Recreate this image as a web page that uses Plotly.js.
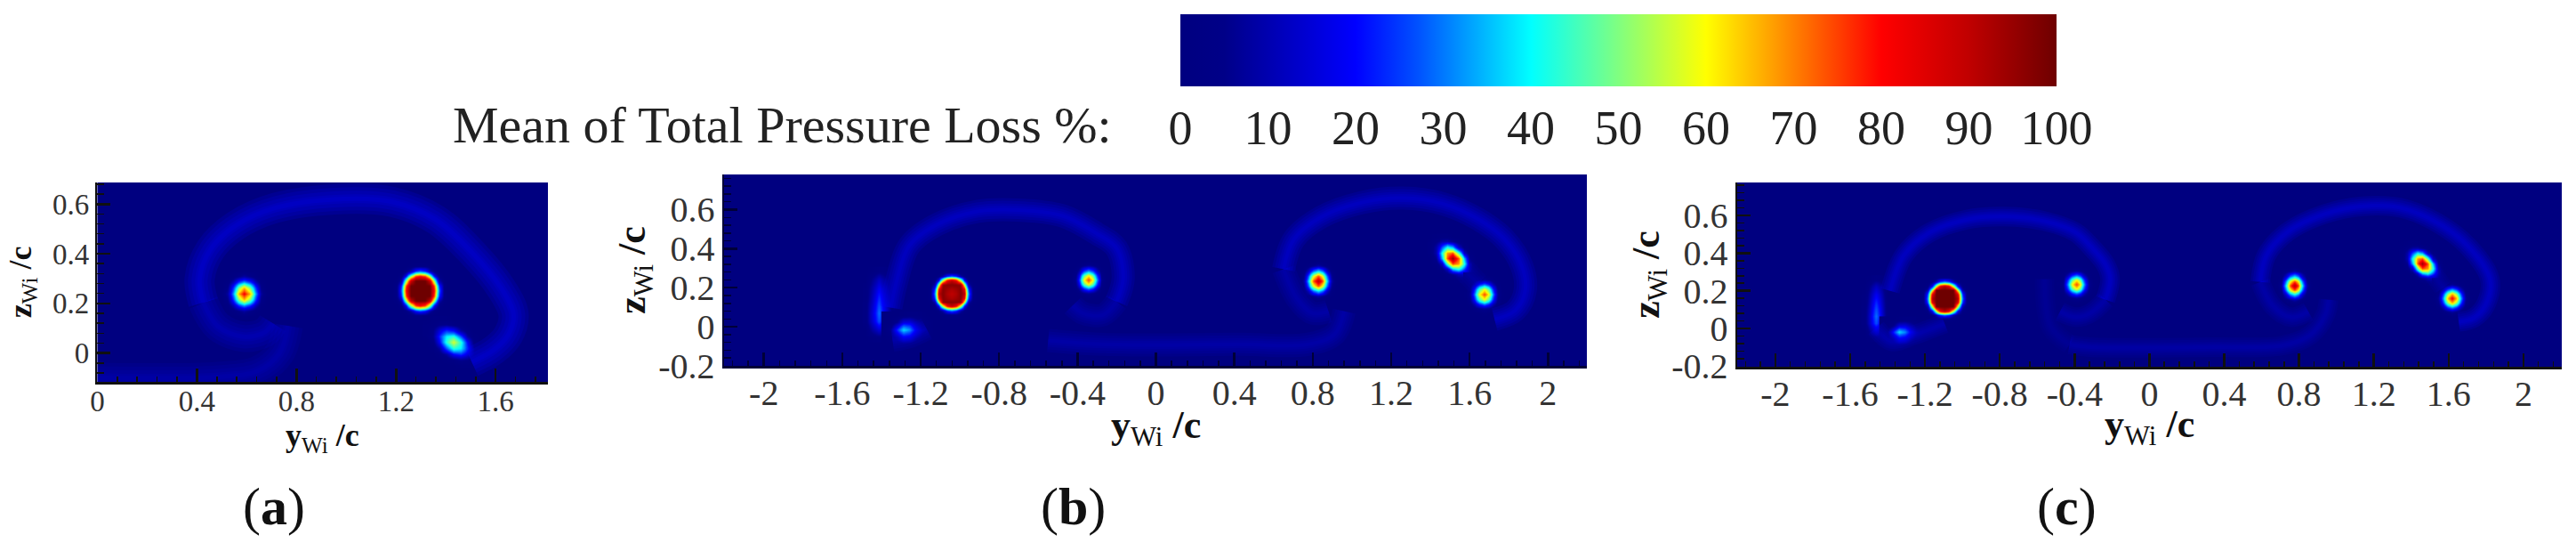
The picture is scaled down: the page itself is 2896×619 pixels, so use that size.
<!DOCTYPE html>
<html><head><meta charset="utf-8">
<script src="https://cdn.plot.ly/plotly-3.0.1.min.js"></script>
<style>html,body{margin:0;padding:0;background:#fff}</style></head>
<body><div id="chart" style="width:2896px;height:619px"></div>
<script>
// ---------- colour scale (Total Pressure Loss %)
const lossScale = [[0,'#000080'],[0.05,'#000088'],[0.2,'#0000ff'],[0.27,'#0050ff'],[0.4,'#00ffff'],[0.5,'#80ff80'],[0.6,'#ffff00'],[0.68,'#ff9a00'],[0.8,'#ff0000'],[0.9,'#c00000'],[1,'#6e0000']];
const colorbarTicks = [0,10,20,30,40,50,60,70,80,90,100];

// ---------- tick labels
const xTicksA = [0,0.4,0.8,1.2,1.6];
const xLabelsA = ['0','0.4','0.8','1.2','1.6'];
const yTicksA = [0,0.2,0.4,0.6];
const yLabelsA = ['0','0.2','0.4','0.6'];
const xTicksWide = [-2,-1.6,-1.2,-0.8,-0.4,0,0.4,0.8,1.2,1.6,2];
const xLabelsWide = ['-2','-1.6','-1.2','-0.8','-0.4','0','0.4','0.8','1.2','1.6','2'];
const yTicksWide = [-0.2,0,0.2,0.4,0.6];
const yLabelsWide = ['-0.2','0','0.2','0.4','0.6'];

// ---------- loss values sampled across the vortex cores (rows bottom to top)
const soft75 = [
[0,0,0,0,1,0,0,0,0],[0,0,2,5,7,5,2,0,0],[0,2,10,23,30,23,10,2,0],[0,5,23,47,60,47,23,5,0],[1,7,30,60,75,60,30,7,1],
[0,5,23,47,60,47,23,5,0],[0,2,10,23,30,23,10,2,0],[0,0,2,5,7,5,2,0,0],[0,0,0,0,1,0,0,0,0]];
const soft82 = [
[0,0,0,0,1,0,0,0,0],[0,0,2,5,8,5,2,0,0],[0,2,11,25,33,25,11,2,0],[0,5,25,51,66,51,25,5,0],[1,8,33,66,82,66,33,8,1],
[0,5,25,51,66,51,25,5,0],[0,2,11,25,33,25,11,2,0],[0,0,2,5,8,5,2,0,0],[0,0,0,0,1,0,0,0,0]];
const soft92 = [
[0,0,0,0,1,0,0,0,0],[0,0,2,6,9,6,2,0,0],[0,2,12,28,37,28,12,2,0],[0,6,28,58,74,58,28,6,0],[1,9,37,74,92,74,37,9,1],
[0,6,28,58,74,58,28,6,0],[0,2,12,28,37,28,12,2,0],[0,0,2,6,9,6,2,0,0],[0,0,0,0,1,0,0,0,0]];
const tilted95 = [
[0,0,0,0,0,1,1,1,0],[0,0,0,2,6,10,9,4,1],[0,0,3,13,35,42,27,9,1],[0,2,13,47,74,68,42,10,1],[0,6,35,74,95,74,35,6,0],
[1,10,42,68,74,47,13,2,0],[1,9,27,42,35,13,3,0,0],[1,4,9,10,6,2,0,0,0],[0,1,1,1,0,0,0,0,0]];
const tilted57 = [
[0,0,0,0,0,1,1,1,0],[0,0,0,1,3,6,5,2,1],[0,0,2,8,20,24,16,5,1],[0,1,8,27,43,39,24,6,1],[0,3,20,43,57,43,20,3,0],
[1,6,24,39,43,27,8,1,0],[1,5,16,24,20,8,2,0,0],[1,2,5,6,3,1,0,0,0],[0,1,1,1,0,0,0,0,0]];
const flat100 = [
[0,0,0,0,0,0,0,0,0,0,0,0,0],[0,0,0,0,1,3,3,3,1,0,0,0,0],[0,0,0,3,10,24,30,24,10,3,0,0,0],[0,0,3,18,55,84,92,84,55,18,3,0,0],
[0,1,10,55,100,100,100,100,100,55,10,1,0],[0,3,24,84,100,100,100,100,100,84,24,3,0],[0,3,30,92,100,100,100,100,100,92,30,3,0],[0,3,24,84,100,100,100,100,100,84,24,3,0],
[0,1,10,55,100,100,100,100,100,55,10,1,0],[0,0,3,18,55,84,92,84,55,18,3,0,0],[0,0,0,3,10,24,30,24,10,3,0,0,0],[0,0,0,0,1,3,3,3,1,0,0,0,0],[0,0,0,0,0,0,0,0,0,0,0,0,0]];
const flat93 = [
[0,0,0,0,0,0,0,0,0,0,0,0,0],[0,0,0,0,1,3,3,3,1,0,0,0,0],[0,0,0,3,10,24,30,24,10,3,0,0,0],[0,0,3,18,55,82,90,82,55,18,3,0,0],
[0,1,10,55,96,97,97,97,96,55,10,1,0],[0,3,24,82,97,94,92,94,97,82,24,3,0],[0,3,30,90,97,92,90,92,97,90,30,3,0],[0,3,24,82,97,94,92,94,97,82,24,3,0],
[0,1,10,55,96,97,97,97,96,55,10,1,0],[0,0,3,18,55,82,90,82,55,18,3,0,0],[0,0,0,3,10,24,30,24,10,3,0,0,0],[0,0,0,0,1,3,3,3,1,0,0,0,0],[0,0,0,0,0,0,0,0,0,0,0,0,0]];
const wide100 = [
[0,0,0,0,0,0,0,0,0,0,0,0,0],[0,0,0,0,1,3,3,3,1,0,0,0,0],[0,0,0,3,10,23,28,23,10,3,0,0,0],[0,0,3,18,50,74,80,74,50,18,3,0,0],
[0,1,10,50,88,100,100,100,88,50,10,1,0],[0,3,23,74,100,100,100,100,100,74,23,3,0],[0,3,28,80,100,100,100,100,100,80,28,3,0],[0,3,23,74,100,100,100,100,100,74,23,3,0],
[0,1,10,50,88,100,100,100,88,50,10,1,0],[0,0,3,18,50,74,80,74,50,18,3,0,0],[0,0,0,3,10,23,28,23,10,3,0,0,0],[0,0,0,0,1,3,3,3,1,0,0,0,0],[0,0,0,0,0,0,0,0,0,0,0,0,0]];
const streak = [[0,1,2,1,0],[0,8,14,7,0],[2,14,27,14,1],[2,15,30,15,1],[2,13,27,14,1],[1,11,23,12,1],[1,9,18,10,0],[0,6,12,7,0],[0,1,3,2,0]];
const spot = [[0,0,1,2,2,1,0,0,0],[0,2,8,18,16,8,3,1,0],[1,6,24,40,34,18,8,3,0],[0,1,6,16,16,10,5,2,0],[0,0,0,1,2,2,1,0,0]];

// ---------- vortex cores: matrix, centre and half-size in y/c and z/c
const coresA = {z:[soft82,wide100,tilted57], x:[0.59,1.296,1.43], y:[0.239,0.251,0.044], hx:[0.06,0.076,0.074], hy:[0.062,0.08,0.063]};
const coresB = {z:[flat93,soft75,streak,spot,soft92,tilted95,soft75], x:[-1.043,-0.345,-1.413,-1.257,0.825,1.514,1.672], y:[0.171,0.242,0.114,-0.015,0.235,0.352,0.167], hx:[0.088,0.058,0.045,0.085,0.062,0.076,0.062], hy:[0.088,0.063,0.115,0.05,0.069,0.075,0.066]};
const coresC = {z:[flat100,soft75,streak,spot,soft92,tilted95,soft82], x:[-1.095,-0.392,-1.462,-1.309,0.774,1.46,1.617], y:[0.161,0.235,0.106,-0.02,0.228,0.346,0.161], hx:[0.093,0.06,0.042,0.08,0.06,0.074,0.063], hy:[0.088,0.063,0.105,0.045,0.066,0.071,0.063]};

// ---------- wake filaments (y/c, z/c)
const aMainX = [0.426,0.411,0.455,0.557,0.717,0.994,1.184,1.359,1.504,1.621,1.672,1.65,1.592,1.504];
const aMainZ = [0.203,0.299,0.418,0.514,0.585,0.621,0.609,0.538,0.406,0.263,0.155,0.072,0.012,-0.036];
const aSpiralX = [0.426,0.484,0.586,0.673,0.705];
const aSpiralZ = [0.203,0.108,0.066,0.084,0.12];
const aTailX = [0.765,0.732,0.644,0.484,0];
const aTailZ = [0.11,0,-0.072,-0.096,-0.1];
const bLeftX = [-1.352,-1.326,-1.257,-1.118,-0.91,-0.701,-0.476,-0.302,-0.201,-0.167,-0.201];
const bLeftZ = [0.098,0.22,0.417,0.523,0.591,0.598,0.568,0.477,0.402,0.25,0.129];
const bSpiralX = [-0.201,-0.271,-0.372,-0.424];
const bSpiralZ = [0.129,0.061,0.07,0.11];
const bRightX = [0.651,0.703,0.842,1.05,1.259,1.467,1.64,1.78,1.866,1.884,1.832,1.727];
const bRightZ = [0.295,0.447,0.561,0.636,0.659,0.629,0.553,0.447,0.311,0.189,0.083,0.038];
const bInnerX = [0.88,0.8,0.72,0.651];
const bInnerZ = [0.08,0.07,0.144,0.295];
const bTailX = [-0.55,-0.27,0.425,0.773,0.911,0.96];
const bTailZ = [-0.07,-0.09,-0.09,-0.09,-0.038,0.08];
const bLinkX = [1.572,1.64];
const bLinkZ = [0.295,0.22];
const bUnderX = [-1.344,-1.257,-1.17];
const bUnderZ = [-0.068,-0.05,-0.01];
const cLeftX = [-1.387,-1.312,-1.179,-0.978,-0.778,-0.561,-0.394,-0.318,-0.235,-0.21,-0.235];
const cLeftZ = [0.2,0.389,0.507,0.578,0.594,0.57,0.51,0.44,0.34,0.263,0.153];
const cSpiralX = [-0.235,-0.318,-0.394,-0.478];
const cSpiralZ = [0.153,0.08,0.06,0.09];
const cRightX = [0.593,0.626,0.742,0.941,1.14,1.339,1.538,1.704,1.82,1.803,1.737,1.654];
const cRightZ = [0.247,0.389,0.515,0.609,0.649,0.641,0.562,0.436,0.263,0.137,0.058,0.035];
const cInnerX = [0.85,0.759,0.66,0.593];
const cInnerZ = [0.09,0.06,0.121,0.247];
const cTailX = [-0.427,-0.318,0.345,0.709,0.858,0.941,0.958];
const cTailZ = [-0.085,-0.099,-0.099,-0.091,-0.036,0.074,0.153];
const cOuterX = [-0.561,-0.528,-0.427];
const cOuterZ = [0.263,0.011,-0.085];
const cLinkX = [1.521,1.571];
const cLinkZ = [0.287,0.216];
const cUnderX = [-1.462,-1.379,-1.262,-1.095];
const cUnderZ = [0.003,-0.068,-0.036,0.027];

// ---------- layout helpers
const W = 2896, H = 619;
const panels = [
 {k:'', box:[109.4,616,205,429], xr:[0,1.81], yr:[-0.116,0.687], xt:xTicksA, xl:xLabelsA, yt:yTicksA, yl:yLabelsA, fs:33, ts:36, tick:'#101010', core:coresA, titleY:491, tso:-9,
  arcs:[[aMainX,aMainZ,0.14],[aSpiralX,aSpiralZ,0.09],[aTailX,aTailZ,0.07]], w:[34,26,18,10,5], ys:13, minorX:0.08},
 {k:'2', box:[814,1784,196,411], xr:[-2.203,2.198], yr:[-0.2,0.78], xt:xTicksWide, xl:xLabelsWide, yt:yTicksWide, yl:yLabelsWide, fs:40, ts:44, tick:'#000038', core:coresB, titleY:480, tso:-7,
  arcs:[[bLeftX,bLeftZ,0.13],[bSpiralX,bSpiralZ,0.07],[bRightX,bRightZ,0.13],[bInnerX,bInnerZ,0.07],[bTailX,bTailZ,0.07],[bLinkX,bLinkZ,0.05],[bUnderX,bUnderZ,0.07]], w:[26,20,14,9,4], ys:1, minorX:0.08},
 {k:'3', box:[1953,2880,205,412], xr:[-2.204,2.205], yr:[-0.203,0.775], xt:xTicksWide, xl:xLabelsWide, yt:yTicksWide, yl:yLabelsWide, fs:40, ts:44, tick:'#101010', core:coresC, titleY:479, tso:-7,
  arcs:[[cLeftX,cLeftZ,0.13],[cSpiralX,cSpiralZ,0.07],[cRightX,cRightZ,0.13],[cInnerX,cInnerZ,0.07],[cTailX,cTailZ,0.065],[cOuterX,cOuterZ,0.035],[cLinkX,cLinkZ,0.05],[cUnderX,cUnderZ,0.08]], w:[22,17,12,8,4], ys:0, minorX:0.08}
];
const FONT = 'Liberation Serif, Times New Roman, serif';
const traces = [];
const layout = {
  width:W, height:H, margin:{l:0,r:0,t:0,b:0,autoexpand:false},
  paper_bgcolor:'#ffffff', plot_bgcolor:'#000080', showlegend:false, font:{family:FONT,color:'#222'},
  annotations:[
    {xref:'paper',yref:'paper',x:1252/W,y:1-140/H,xanchor:'right',yanchor:'middle',showarrow:false,text:'Mean of Total Pressure Loss %:',font:{size:58,family:FONT,color:'#222'}},
    {xref:'paper',yref:'paper',x:308/W,y:1-569/H,xanchor:'center',yanchor:'middle',showarrow:false,text:'(<b>a</b>)',font:{size:60,family:FONT,color:'#111'}},
    {xref:'paper',yref:'paper',x:1206/W,y:1-569/H,xanchor:'center',yanchor:'middle',showarrow:false,text:'(<b>b</b>)',font:{size:60,family:FONT,color:'#111'}},
    {xref:'paper',yref:'paper',x:2323/W,y:1-569/H,xanchor:'center',yanchor:'middle',showarrow:false,text:'(<b>c</b>)',font:{size:60,family:FONT,color:'#111'}}
  ]
};
panels.forEach((p,pi)=>{
  const xa='x'+p.k, ya='y'+p.k;
  p.core.z.forEach((m,i)=>{
    const rows=m.length, cols=m[0].length;
    traces.push({type:'heatmap', z:m, xaxis:xa, yaxis:ya, zsmooth:'best', hoverinfo:'skip',
      x0:p.core.x[i]-1.5*p.core.hx[i], dx:3*p.core.hx[i]/(cols-1),
      y0:p.core.y[i]-1.5*p.core.hy[i], dy:3*p.core.hy[i]/(rows-1),
      colorscale:lossScale, zmin:0, zmax:100, showscale:(pi===0&&i===0),
      colorbar:{orientation:'h', x:1327/W, xanchor:'left', y:1-16/H, yanchor:'top', lenmode:'pixels', len:985, thickness:81, thicknessmode:'pixels', xpad:0, ypad:0,
        outlinewidth:0, tickmode:'array', tickvals:colorbarTicks, ticktext:colorbarTicks.map(String), ticks:'outside', ticklen:1, tickcolor:'rgba(0,0,0,0)', tickfont:{size:54,family:FONT,color:'#222'}}
    });
  });
  p.arcs.forEach(a=>{
    p.w.forEach(w=>{
      traces.push({type:'scatter',mode:'lines',x:a[0],y:a[1],xaxis:xa,yaxis:ya,hoverinfo:'skip',
        line:{shape:'spline',smoothing:1,width:w,color:'rgba(0,0,255,'+a[2]+')'}});
    });
  });
  const xk='xaxis'+p.k, yk='yaxis'+p.k;
  layout[xk]={domain:[p.box[0]/W,p.box[1]/W], range:p.xr, anchor:ya, tickmode:'array', tickvals:p.xt, ticktext:p.xl, ticks:'inside', ticklen:15, tickwidth:2.5, tickcolor:p.tick, ticklabelstandoff:p.tso,
    minor:{ticks:'inside',ticklen:6,tickwidth:1.5,tickcolor:p.tick,tickmode:'linear',tick0:0,dtick:p.minorX,showgrid:false},
    showline:true, linecolor:p.tick, linewidth:2.5, showgrid:false, zeroline:false, tickfont:{size:p.fs,family:FONT,color:'#333'}};
  layout.annotations.push({xref:'paper',yref:'paper',x:(p.box[0]+p.box[1])/2/W,y:1-p.titleY/H,xanchor:'center',yanchor:'middle',showarrow:false,
    text:'<b>y</b><sub>Wi</sub> <b>/c</b>',font:{size:p.ts,family:FONT,color:'#111'}});
  layout[yk]={domain:[1-p.box[3]/H,1-p.box[2]/H], range:p.yr, anchor:xa, tickmode:'array', tickvals:p.yt, ticktext:p.yl, ticks:'inside', ticklen:15, tickwidth:2.5, tickcolor:p.tick,
    minor:{ticks:'inside',ticklen:8,tickwidth:1.5,tickcolor:p.tick,tickmode:'linear',tick0:0,dtick:0.04,showgrid:false},
    showline:true, linecolor:p.tick, linewidth:2.5, showgrid:false, zeroline:false, tickfont:{size:p.fs,family:FONT,color:'#333'},
    title:{text:'<b>z</b><sub>Wi</sub> <b>/c</b>', standoff:p.ys, font:{size:p.ts,family:FONT,color:'#111'}}};
});
Plotly.newPlot('chart', traces, layout, {displayModeBar:false, staticPlot:true});
</script></body></html>
